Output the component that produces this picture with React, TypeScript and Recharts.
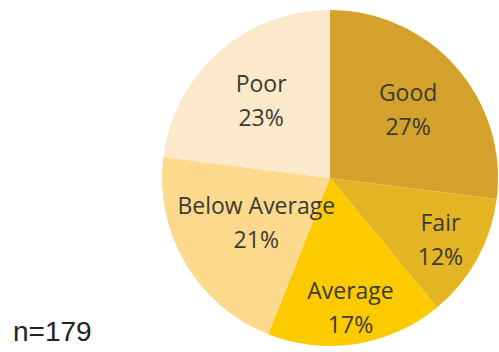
import { PieChart, Pie, Cell } from "recharts";

const categories = ["Good", "Fair", "Average", "Below Average", "Poor"];
const shares = [27, 12, 17, 21, 23];
const sampleSize = 179;

const colors = ["#D4A22C", "#E3B424", "#FDCA00", "#FCD98C", "#FCE8CB"];
// how far out from the centre each label sits (fraction of the radius)
const labelRadius = [0.62, 0.75, 0.78, 0.51, 0.62];

const data = categories.map((name, i) => ({ name, value: shares[i] }));

const RAD = Math.PI / 180;

const renderLabel = (props: any) => {
  const { cx, cy, midAngle, outerRadius, index, name, value } = props;
  const r = outerRadius * labelRadius[index];
  const x = cx + r * Math.cos(-midAngle * RAD);
  const y = cy + r * Math.sin(-midAngle * RAD);
  return (
    <text
      x={x}
      y={y}
      textAnchor="middle"
      fill="#3b3a33"
      fontFamily="'Open Sans', sans-serif"
      fontSize={23}
    >
      <tspan x={x} y={y - 17} dominantBaseline="central">{name}</tspan>
      <tspan x={x} y={y + 17} dominantBaseline="central">{value}%</tspan>
    </text>
  );
};

export default function App() {
  return (
    <div style={{ position: "absolute", left: 0, top: 0, width: 499, height: 352, background: "#fff" }}>
      <PieChart width={499} height={352} margin={{ top: 0, right: 0, bottom: 0, left: 0 }}>
        <Pie
          data={data}
          dataKey="value"
          nameKey="name"
          cx={330}
          cy={178}
          outerRadius={168}
          startAngle={90}
          endAngle={-270}
          stroke="none"
          label={renderLabel}
          labelLine={false}
          isAnimationActive={false}
        >
          {data.map((d, i) => (
            <Cell key={d.name} fill={colors[i]} />
          ))}
        </Pie>
      </PieChart>
      <div
        style={{
          position: "absolute",
          left: 13,
          top: 318,
          fontFamily: "'Liberation Sans', Arial, sans-serif",
          fontSize: 28,
          lineHeight: "28px",
          color: "#222",
        }}
      >
        n={sampleSize}
      </div>
    </div>
  );
}
